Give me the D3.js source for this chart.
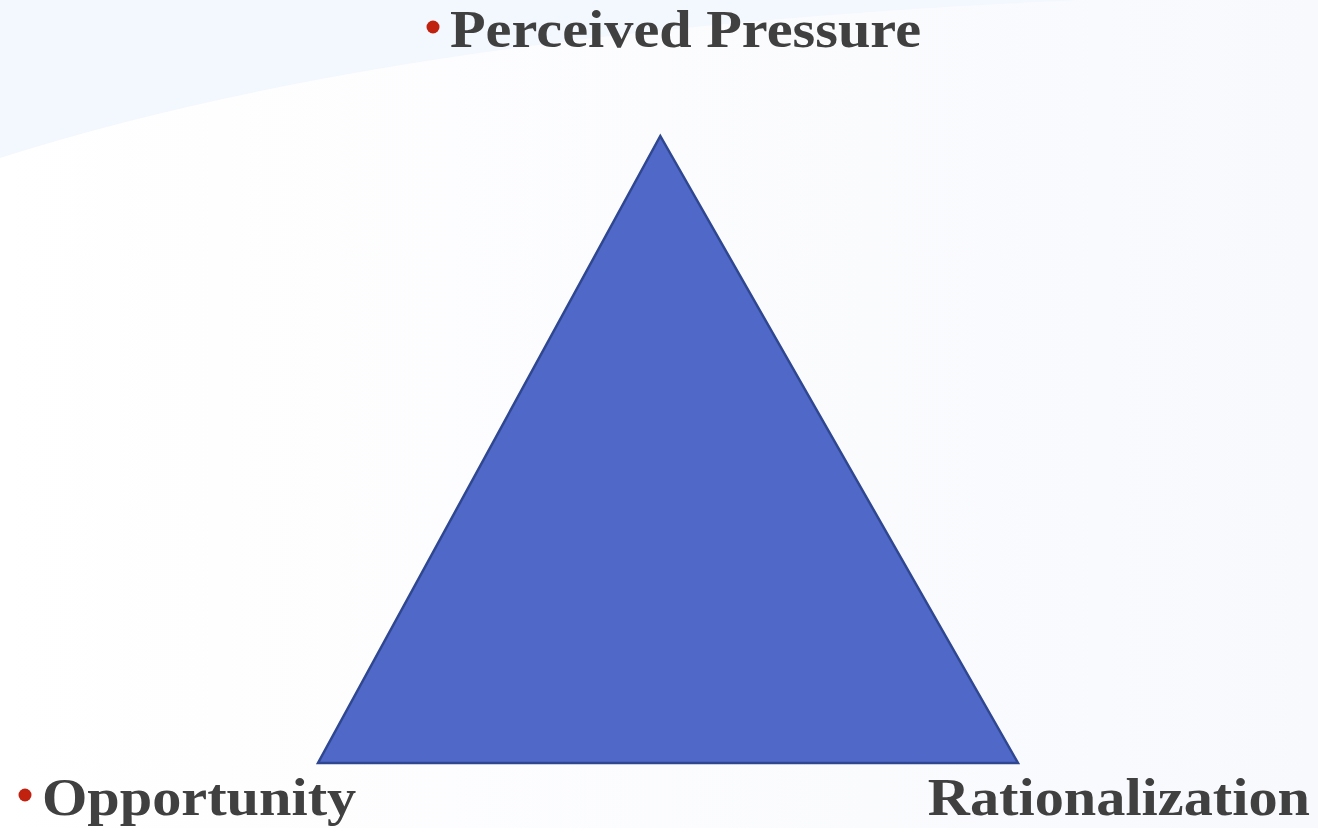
<!DOCTYPE html>
<html>
<head>
<meta charset="utf-8">
<script src="https://cdn.jsdelivr.net/npm/d3@7"></script>
<style>
  html, body { margin: 0; padding: 0; background: #f9fafe; overflow: hidden; }
  #chart { width: 1318px; height: 828px; }
</style>
</head>
<body>
<div id="chart"></div>
<script>
// fraud triangle: three corners, in unit coords
var labels = ["Opportunity", "Rationalization", "Perceived Pressure"];
var cornerX = [0, 1, 0.489];
var cornerY = [0, 0, 1];
var bulleted = [true, false, true];

var width = 1318, height = 828;

var svg = d3.select("#chart").append("svg")
    .attr("width", width)
    .attr("height", height);

var defs = svg.append("defs");
var grad = defs.append("linearGradient")
    .attr("id", "bg")
    .attr("x1", "0").attr("y1", "0").attr("x2", "1").attr("y2", "0");
grad.append("stop").attr("offset", "0").attr("stop-color", "#ffffff");
grad.append("stop").attr("offset", "1").attr("stop-color", "#f8f9fd");

svg.append("rect")
    .attr("width", width).attr("height", height)
    .attr("fill", "url(#bg)");

// pale blue sweep in the top left
svg.append("path")
    .attr("d", "M0,0 L1080,0 Q400,30 0,158 Z")
    .attr("fill", "#f3f8fe");

var x = d3.scaleLinear().domain([0, 1]).range([318, 1018]);
var y = d3.scaleLinear().domain([0, 1]).range([763, 136]);

var pts = labels.map(function(d, i) { return [x(cornerX[i]), y(cornerY[i])]; });

svg.append("path")
    .attr("d", d3.line()(pts) + "Z")
    .attr("fill", "#5068c8")
    .attr("stroke", "#2f4790")
    .attr("stroke-width", 2.5)
    .attr("stroke-linejoin", "miter");

// label placement (the slide text is a bit stretched sideways)
var labelPos = [
    { x: 42, y: 815, anchor: "start" },
    { x: 1310, y: 815, anchor: "end" },
    { x: 450, y: 47, anchor: "start" }
];

var g = svg.append("g");
labels.forEach(function(d, i) {
    var p = labelPos[i];
    g.append("text")
        .attr("transform", "translate(" + p.x + "," + p.y + ") scale(1.1,1)")
        .attr("text-anchor", p.anchor)
        .style("font-family", "'Liberation Serif', 'Times New Roman', serif")
        .style("font-weight", "bold")
        .style("font-size", "53px")
        .style("fill", "#404040")
        .text(d);
    if (bulleted[i]) {
        g.append("circle")
            .attr("cx", p.x - 17)
            .attr("cy", p.y - 20)
            .attr("r", 6.5)
            .attr("fill", "#c0220f");
    }
});
</script>
</body>
</html>
